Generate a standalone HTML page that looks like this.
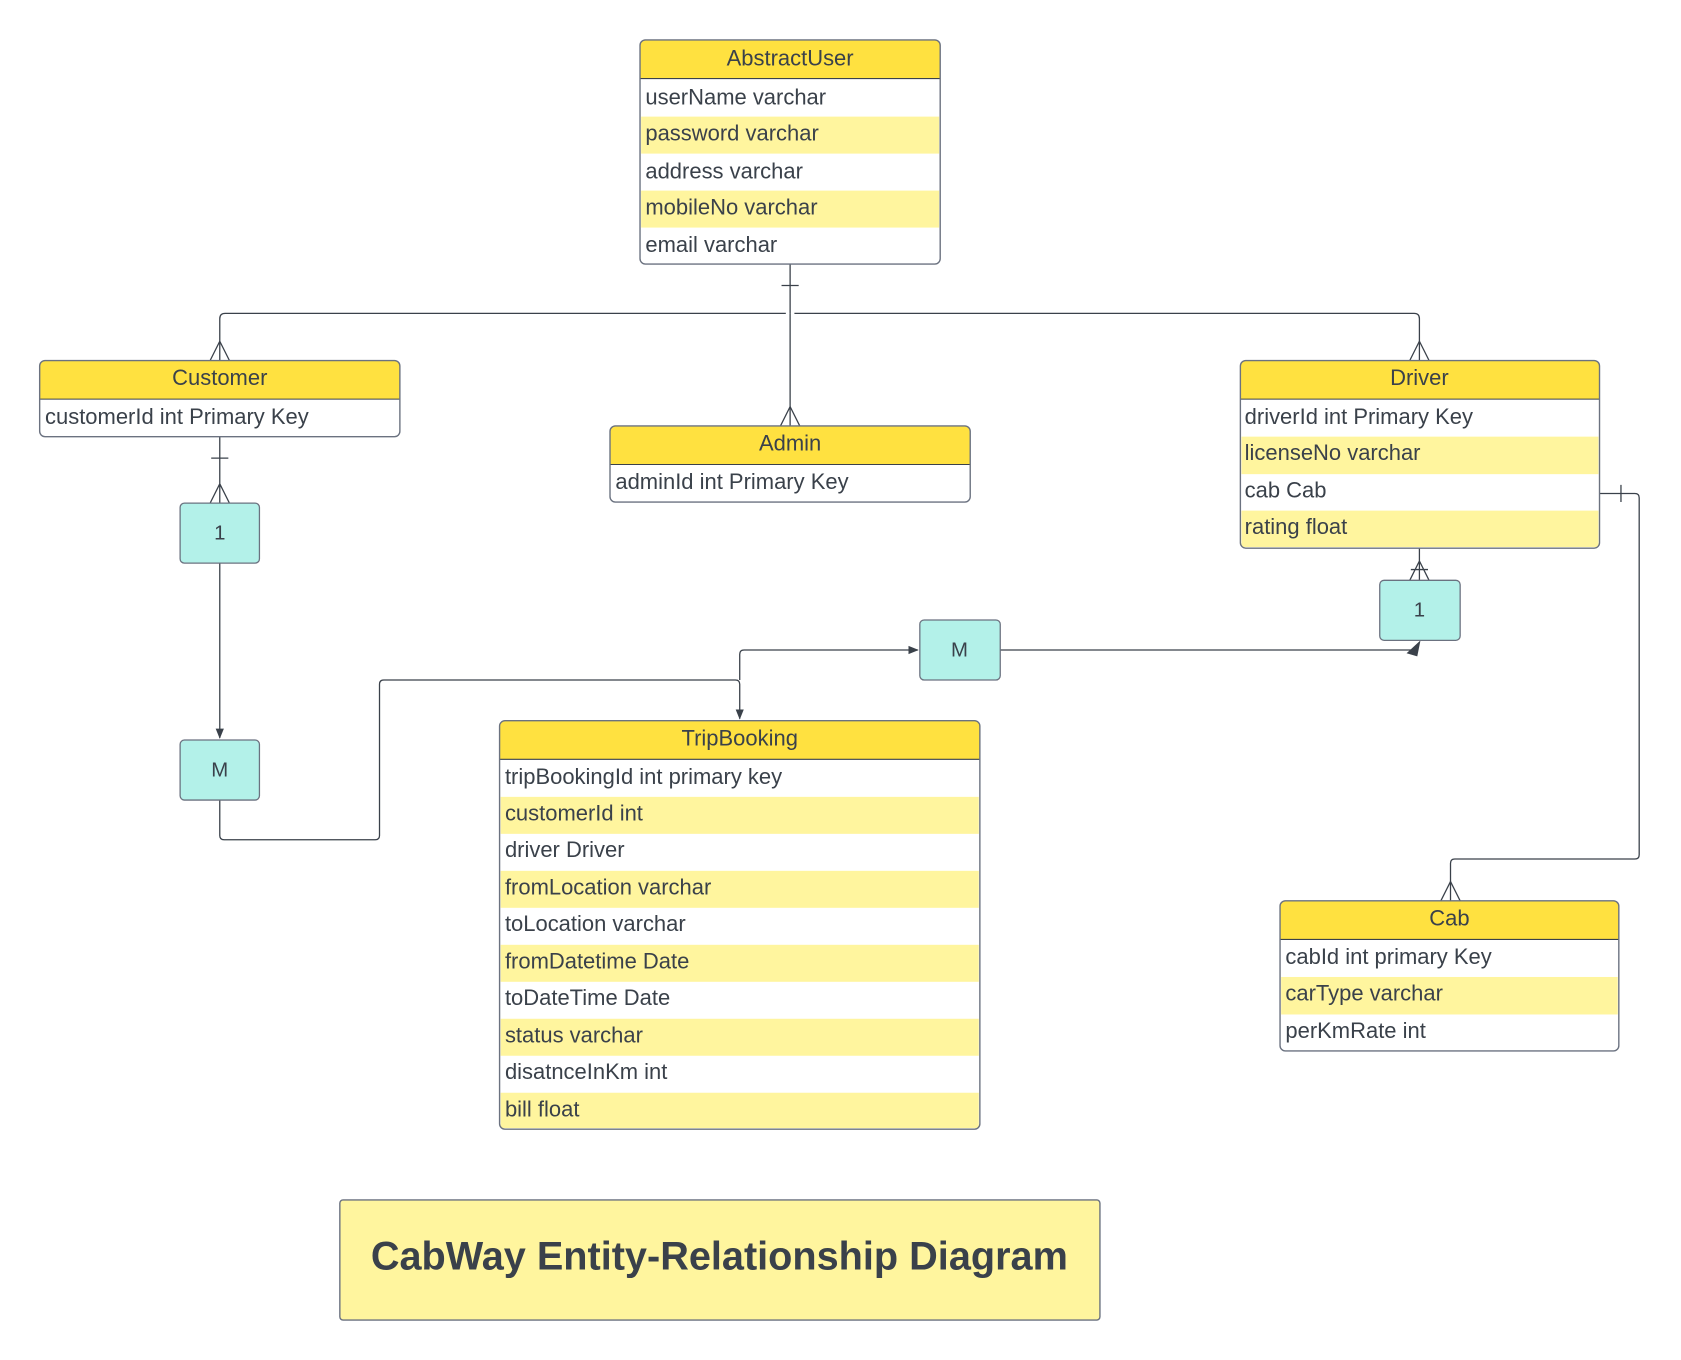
<!DOCTYPE html>
<html><head><meta charset="utf-8"><style>
html,body{margin:0;padding:0;background:#fff;}
svg{display:block;}
text{font-family:"Liberation Sans",sans-serif;fill:#3a414a;}
</style></head><body>
<svg width="1681" height="1360" viewBox="0 0 1568 1268" xmlns="http://www.w3.org/2000/svg">
<defs>
<marker id="ar" viewBox="0 0 10 10" refX="9" refY="5" markerWidth="8" markerHeight="8" orient="auto-start-reverse"><path d="M0,1 L10,5 L0,9 z" fill="#3a414a"/></marker>
</defs>
<g fill="none" stroke="#3a414a" stroke-width="1.2">
<path d="M737 246 V292 M729 266 H745"/>
<path d="M733 292 H210 Q205 292 205 297 V336"/>
<path d="M741 292 H1319 Q1324 292 1324 297 V336"/>
<path d="M737 292 V397"/>
<path d="M205 318 L196 336 M205 318 L214 336"/>
<path d="M1324 318 L1315 336 M1324 318 L1333 336"/>
<path d="M737 379 L728 397 M737 379 L746 397"/>
<path d="M205 407 V469 M197 427 H213 M205 451 L196 469 M205 451 L214 469"/>
<path d="M205 525 V688" marker-end="url(#ar)"/>
<path d="M205 746 V779 Q205 783 209 783 H350 Q354 783 354 779 V638 Q354 634 358 634 H686 Q690 634 690 638 V670" marker-end="url(#ar)"/>
<path d="M690 634 V610 Q690 606 694 606 H856" marker-end="url(#ar)"/>
<path d="M933 606 H1318"/>
<path d="M1324 511 V541 M1316 531 H1332 M1324 523 L1315 541 M1324 523 L1333 541"/>
<path d="M1492 460 H1525 Q1529 460 1529 464 V797 Q1529 801 1525 801 H1357 Q1353 801 1353 805 V840 M1512 452 V468"/>
<path d="M1353 822 L1344 840 M1353 822 L1362 840"/>
</g>
<path d="M1325 597 L1312 609 L1322 612 z" fill="#3a414a"/>

<g fill="#b3f1e9" stroke="#6b7280" stroke-width="1.2">
<rect x="168" y="469" width="74" height="56" rx="4"/>
<rect x="168" y="690" width="74" height="56" rx="4"/>
<rect x="858" y="578" width="75" height="56" rx="4"/>
<rect x="1287" y="541" width="75" height="56" rx="4"/>
</g>
<g font-size="19" text-anchor="middle">
<text x="205" y="503">1</text>
<text x="205" y="724">M</text>
<text x="895" y="612">M</text>
<text x="1324" y="575">1</text>
</g>

<rect x="597" y="37" width="280" height="209" rx="5" fill="#fff"/>
<path d="M602 37 H872 Q877 37 877 42 V73 H597 V42 Q597 37 602 37Z" fill="#ffe140"/>
<rect x="598" y="108.5" width="278" height="34.5" fill="#fff59e"/>
<rect x="598" y="177.5" width="278" height="34.5" fill="#fff59e"/>
<line x1="597" y1="73" x2="877" y2="73" stroke="#3a414a" stroke-width="1"/>
<rect x="597" y="37" width="280" height="209" rx="5" fill="none" stroke="#6b7280" stroke-width="1.3"/>
<g font-size="20.5"><text x="737" y="61" text-anchor="middle">AbstractUser</text>
<text x="602" y="97">userName varchar</text><text x="602" y="131">password varchar</text><text x="602" y="166">address varchar</text><text x="602" y="200">mobileNo varchar</text><text x="602" y="235">email varchar</text></g>

<path d="M42 336 H368 Q373 336 373 341 V372 H37 V341 Q37 336 42 336Z" fill="#ffe140"/>
<rect x="37" y="372" width="336" height="35" fill="#fff"/>
<line x1="37" y1="372" x2="373" y2="372" stroke="#3a414a"/>
<rect x="37" y="336" width="336" height="71" rx="5" fill="none" stroke="#6b7280" stroke-width="1.3"/>
<g font-size="20.5"><text x="205" y="359" text-anchor="middle">Customer</text><text x="42" y="395">customerId int Primary Key</text></g>

<path d="M574 397 H900 Q905 397 905 402 V433 H569 V402 Q569 397 574 397Z" fill="#ffe140"/>
<rect x="569" y="433" width="336" height="35" fill="#fff"/>
<line x1="569" y1="433" x2="905" y2="433" stroke="#3a414a"/>
<rect x="569" y="397" width="336" height="71" rx="5" fill="none" stroke="#6b7280" stroke-width="1.3"/>
<g font-size="20.5"><text x="737" y="420" text-anchor="middle">Admin</text><text x="574" y="456">adminId int Primary Key</text></g>

<path d="M1162 336 H1487 Q1492 336 1492 341 V372 H1157 V341 Q1157 336 1162 336Z" fill="#ffe140"/>
<rect x="1157" y="372" width="335" height="139" fill="#fff"/>
<rect x="1158" y="407" width="333" height="35" fill="#fff59e"/>
<rect x="1158" y="476" width="333" height="34" fill="#fff59e"/>
<line x1="1157" y1="372" x2="1492" y2="372" stroke="#3a414a"/>
<rect x="1157" y="336" width="335" height="175" rx="5" fill="none" stroke="#6b7280" stroke-width="1.3"/>
<g font-size="20.5"><text x="1324" y="359" text-anchor="middle">Driver</text>
<text x="1161" y="395">driverId int Primary Key</text><text x="1161" y="429">licenseNo varchar</text><text x="1161" y="464">cab Cab</text><text x="1161" y="498">rating float</text></g>

<path d="M471 672 H909 Q914 672 914 677 V708 H466 V677 Q466 672 471 672Z" fill="#ffe140"/>
<rect x="466" y="708" width="448" height="345" fill="#fff"/>
<g fill="#fff59e">
<rect x="467" y="743" width="446" height="34.5"/><rect x="467" y="812" width="446" height="34.5"/><rect x="467" y="881" width="446" height="34.5"/><rect x="467" y="950" width="446" height="34.5"/><rect x="467" y="1019" width="446" height="33"/>
</g>
<line x1="466" y1="708" x2="914" y2="708" stroke="#3a414a"/>
<rect x="466" y="672" width="448" height="381" rx="5" fill="none" stroke="#6b7280" stroke-width="1.3"/>
<g font-size="20.5"><text x="690" y="695" text-anchor="middle">TripBooking</text>
<text x="471" y="731">tripBookingId int primary key</text><text x="471" y="765">customerId int</text><text x="471" y="799">driver Driver</text><text x="471" y="834">fromLocation varchar</text><text x="471" y="868">toLocation varchar</text><text x="471" y="903">fromDatetime Date</text><text x="471" y="937">toDateTime Date</text><text x="471" y="972">status varchar</text><text x="471" y="1006">disatnceInKm int</text><text x="471" y="1041">bill float</text></g>

<path d="M1199 840 H1505 Q1510 840 1510 845 V876 H1194 V845 Q1194 840 1199 840Z" fill="#ffe140"/>
<rect x="1194" y="876" width="316" height="104" fill="#fff"/>
<rect x="1195" y="911" width="314" height="35" fill="#fff59e"/>
<line x1="1194" y1="876" x2="1510" y2="876" stroke="#3a414a"/>
<rect x="1194" y="840" width="316" height="140" rx="5" fill="none" stroke="#6b7280" stroke-width="1.3"/>
<g font-size="20.5"><text x="1352" y="863" text-anchor="middle">Cab</text>
<text x="1199" y="899">cabId int primary Key</text><text x="1199" y="933">carType varchar</text><text x="1199" y="968">perKmRate int</text></g>

<rect x="317" y="1119" width="709" height="112" rx="3" fill="#fff59e" stroke="#6b7280" stroke-width="1.3"/>
<text x="671" y="1184" text-anchor="middle" font-size="37" font-weight="bold">CabWay Entity-Relationship Diagram</text>
</svg>
</body></html>
